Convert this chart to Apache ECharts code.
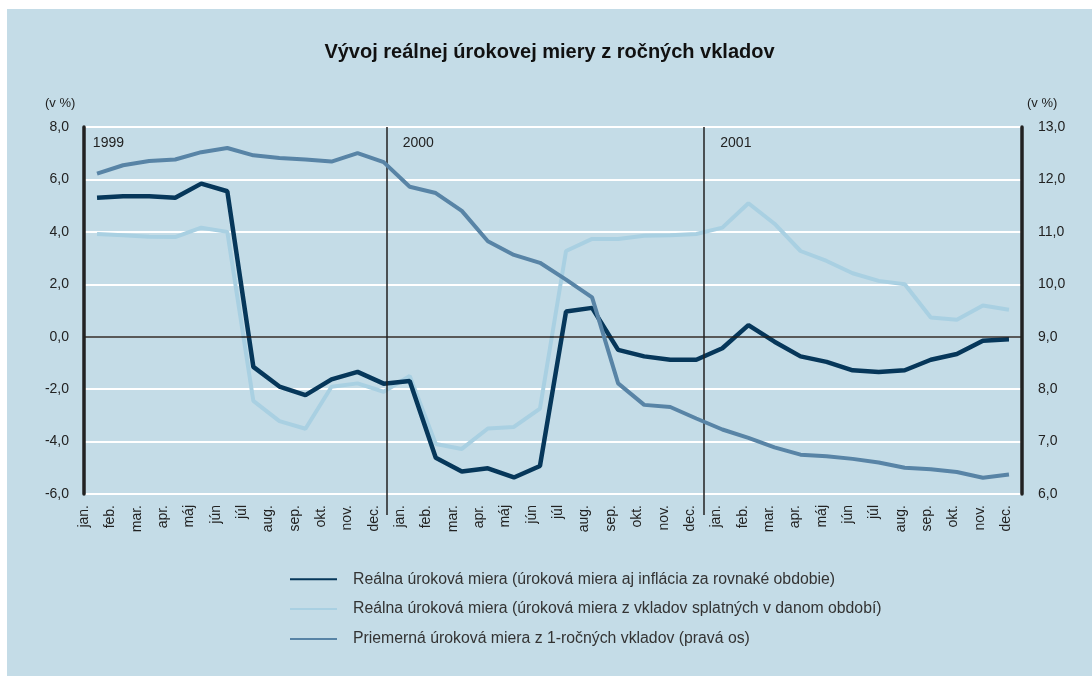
<!DOCTYPE html>
<html>
<head>
<meta charset="utf-8">
<title>Vývoj reálnej úrokovej miery z ročných vkladov</title>
<script src="https://cdn.jsdelivr.net/npm/echarts@6.0.0/dist/echarts.min.js"></script>
<style>
  html, body { margin: 0; padding: 0; background: #fff; }
  #chart { position: absolute; left: 7px; top: 9px; width: 1085px; height: 667px; }
</style>
</head>
<body>
<div id="chart"></div>
<script>
// mesiace (3 roky po sebe)
const months = ['jan.', 'feb.', 'mar.', 'apr.', 'máj', 'jún', 'júl', 'aug.', 'sep.', 'okt.', 'nov.', 'dec.'];
const years = ['1999', '2000', '2001'];
const categories = [].concat(months, months, months);

// reálna úroková miera (inflácia za rovnaké obdobie)
const realSame = [
  5.30, 5.36, 5.36, 5.30, 5.84, 5.55, -1.15, -1.90, -2.23, -1.63, -1.34, -1.79,
  -1.69, -4.62, -5.14, -5.02, -5.37, -4.93, 0.96, 1.10, -0.50, -0.75, -0.88, -0.88,
  -0.44, 0.44, -0.19, -0.75, -0.96, -1.28, -1.35, -1.28, -0.88, -0.66, -0.15, -0.10
];
// reálna úroková miera (vklady splatné v danom období)
const realMaturing = [
  3.92, 3.87, 3.81, 3.80, 4.16, 4.00, -2.45, -3.22, -3.51, -1.91, -1.78, -2.10,
  -1.50, -4.09, -4.28, -3.50, -3.44, -2.74, 3.27, 3.73, 3.73, 3.85, 3.87, 3.92,
  4.16, 5.09, 4.31, 3.27, 2.89, 2.42, 2.13, 2.00, 0.73, 0.65, 1.19, 1.03
];
// priemerná úroková miera z 1-ročných vkladov (pravá os)
const avgRate = [
  12.11, 12.27, 12.35, 12.38, 12.52, 12.60, 12.46, 12.41, 12.38, 12.34, 12.50, 12.33,
  11.86, 11.74, 11.40, 10.82, 10.56, 10.41, 10.09, 9.75, 8.11, 7.70, 7.66, 7.44,
  7.23, 7.07, 6.89, 6.75, 6.72, 6.67, 6.60, 6.50, 6.47, 6.42, 6.31, 6.37
];

const seriesNames = [
  'Reálna úroková miera (úroková miera aj inflácia za rovnaké obdobie)',
  'Reálna úroková miera (úroková miera z vkladov splatných v danom období)',
  'Priemerná úroková miera z 1-ročných vkladov (pravá os)'
];

const font = 'Liberation Sans, Arial, Helvetica, sans-serif';
const fmt = v => v.toFixed(1).replace('.', ',');

const chart = echarts.init(document.getElementById('chart'));

chart.setOption({
  backgroundColor: '#c4dce7',
  textStyle: { fontFamily: font },
  title: [
    {
      text: 'Vývoj reálnej úrokovej miery z ročných vkladov',
      left: 'center',
      top: 28,
      textStyle: { fontSize: 20, fontWeight: 'bold', color: '#111', fontFamily: font }
    },
    // jednotky osí
    { text: '(v %)', left: 33, top: 83, textStyle: { fontSize: 13, fontWeight: 'normal', color: '#222' } },
    { text: '(v %)', left: 1015, top: 83, textStyle: { fontSize: 13, fontWeight: 'normal', color: '#222' } }
  ],
  legend: {
    orient: 'vertical',
    left: 277,
    top: 557,
    itemWidth: 47,
    itemHeight: 18,
    itemGap: 13.5,
    data: seriesNames,
    itemStyle: { opacity: 0 },
    textStyle: { fontSize: 15.8, color: '#333', padding: [0, 0, 0, 11] }
  },
  grid: [
    { left: 77, right: 70, top: 118, bottom: 182 },
    // trochu vyšší grid pre čiary medzi rokmi (idú až pod os)
    { left: 77, right: 70, top: 118, bottom: 161 }
  ],
  xAxis: [
    {
      type: 'category',
      data: categories,
      boundaryGap: true,
      position: 'bottom',
      show: false
    },
    {
      type: 'value',
      min: -0.5,
      max: 35.5,
      position: 'bottom',
      show: false
    },
    {
      // popisy mesiacov
      type: 'value',
      min: 0,
      max: 35.6,
      interval: 1,
      position: 'bottom',
      axisLine: { show: false, onZero: false },
      axisTick: { show: false },
      splitLine: { show: false },
      axisLabel: {
        rotate: 90,
        margin: 11,
        fontSize: 14,
        color: '#222',
        showMaxLabel: false,
        formatter: v => (Number.isInteger(v) && categories[v]) || ''
      }
    },
    {
      gridIndex: 1,
      type: 'value',
      min: -0.5,
      max: 35.5,
      show: false
    }
  ],
  yAxis: [
    {
      type: 'value',
      min: -6,
      max: 8,
      interval: 2,
      axisLine: { show: true, onZero: false, lineStyle: { color: '#222', width: 3.5 } },
      axisTick: { show: false },
      axisLabel: { margin: 15, fontSize: 14, color: '#222', formatter: fmt },
      splitLine: { lineStyle: { color: '#fff', width: 2 } }
    },
    {
      type: 'value',
      min: 6,
      max: 13,
      interval: 1,
      position: 'right',
      axisLine: { show: true, onZero: false, lineStyle: { color: '#222', width: 3.5 } },
      axisTick: { show: false },
      axisLabel: { margin: 16, fontSize: 14, color: '#222', formatter: fmt },
      splitLine: { show: false }
    },
    {
      gridIndex: 1,
      type: 'value',
      min: 0,
      max: 1,
      show: false
    }
  ],
  series: [
    {
      name: seriesNames[0],
      type: 'line',
      data: realSame,
      showSymbol: false,
      z: 4,
      lineStyle: { color: '#06375a', width: 4.5 },
      itemStyle: { color: '#06375a' }
    },
    {
      name: seriesNames[1],
      type: 'line',
      data: realMaturing,
      showSymbol: false,
      z: 3,
      lineStyle: { color: '#a9d0e2', width: 4 },
      itemStyle: { color: '#a9d0e2' }
    },
    {
      name: seriesNames[2],
      type: 'line',
      yAxisIndex: 1,
      data: avgRate,
      showSymbol: false,
      z: 5,
      lineStyle: { color: '#5884a6', width: 4 },
      itemStyle: { color: '#5884a6' }
    },
    {
      // nulová čiara a popisy rokov
      type: 'line',
      xAxisIndex: 1,
      yAxisIndex: 0,
      data: [],
      z: 2,
      silent: true,
      markLine: {
        silent: true,
        symbol: ['none', 'none'],
        label: { show: false },
        lineStyle: { color: '#222', width: 1.5, type: 'solid' },
        data: [{ yAxis: 0 }]
      },
      markPoint: {
        symbol: 'circle',
        symbolSize: 0,
        label: { show: true, position: 'right', distance: 0, formatter: '{b}', fontSize: 14, color: '#222' },
        data: years.map((y, i) => ({ name: y, coord: [[-0.16, 11.73, 23.92][i], 7.39] }))
      }
    },
    {
      // hranice rokov
      type: 'line',
      xAxisIndex: 3,
      yAxisIndex: 2,
      data: [],
      z: 2,
      silent: true,
      markLine: {
        silent: true,
        symbol: ['none', 'none'],
        label: { show: false },
        lineStyle: { color: '#222', width: 1.5, type: 'solid' },
        data: [
          [{ coord: [11.12, 1] }, { coord: [11.12, 0] }],
          [{ coord: [23.27, 1] }, { coord: [23.27, 0] }]
        ]
      }
    }
  ]
});
</script>
</body>
</html>
